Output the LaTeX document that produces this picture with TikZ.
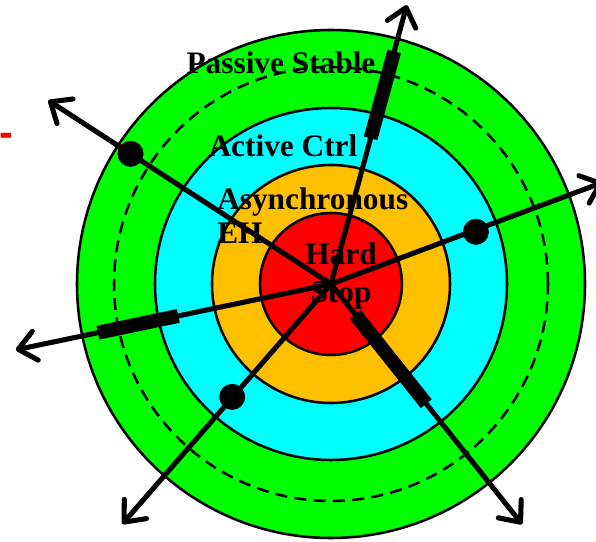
\documentclass[tikz,border=0pt]{standalone}
\usepackage{fontspec}
\setmainfont{Liberation Serif}
\setsansfont{Liberation Sans}
\usetikzlibrary{arrows.meta}
\definecolor{ringgreen}{HTML}{00FF00}
\definecolor{ringcyan}{HTML}{00FFFF}
\definecolor{ringgold}{HTML}{FFC000}
\definecolor{ringred}{HTML}{FF0000}
\tikzset{ring/.style={draw,line width=1.9pt},envelope/.style={dash pattern=on 9pt off 5.5pt,line width=1.9pt},spoke/.style={line width=3.8pt,line cap=round,-{Straight Barb[round,length=13pt,width=22pt]}},marker/.style={line width=10.5pt},hit/.style={circle,fill,inner sep=0pt,minimum size=19.5pt},zone/.style={font=\fontsize{23.5}{25.5}\selectfont\bfseries,inner sep=0pt}}

\begin{document}
\begin{tikzpicture}[x=0.75pt,y=0.75pt]
\useasboundingbox (-331,-258) rectangle (265,284);
\coordinate (hub) at (0,0);
% nested regions, outermost first
\draw[ring,fill=ringgreen] (hub) circle (254);
\draw[envelope] (hub) circle (217);
\draw[ring,fill=ringcyan] (hub) circle (176);
\draw[ring,fill=ringgold] (hub) circle (119);
\draw[ring,fill=ringred] (hub) circle (71);
% region names
\node[zone,anchor=base] (passive) at (-50,210) {Passive Stable};
\node[zone,anchor=base] (active) at (-48,127) {Active Ctrl};
\node[zone,anchor=north west,align=left] (async) at (-114,97) {Asynchronous\\EH};
\node[zone,anchor=north,align=center,font=\fontsize{23.5}{29}\selectfont\bfseries] (hard) at (10,42) {Hard\\Stop};
\node[text=red,font=\sffamily\bfseries\fontsize{31}{31}\selectfont,anchor=base west,inner sep=0pt] (dash) at (-332,137) {-};
% trajectories leaving the hub
\coordinate (tipN) at (74.8:289);
\coordinate (tipNW) at (147:337);
\coordinate (tipE) at (20.5:290);
\coordinate (tipW) at (191.8:322);
\coordinate (tipSW) at (229:318);
\coordinate (tipSE) at (308.5:307);
\draw[spoke] (hub)--(tipN);
\draw[spoke] (hub)--(tipNW);
\draw[spoke] (hub)--(tipE);
\draw[spoke] (hub)--(tipW);
\draw[spoke] (hub)--(tipSW);
\draw[spoke] (hub)--(tipSE);
% events along the trajectories
\draw[marker] (74.8:151)--(74.8:241);
\draw[marker] (191.8:156)--(191.8:238);
\draw[marker] (308.5:39)--(308.5:153);
\node[hit] (hitNW) at (147:239) {};
\node[hit] (hitE) at (19.8:154) {};
\node[hit] (hitSW) at (228.8:150) {};
\end{tikzpicture}
\end{document}
